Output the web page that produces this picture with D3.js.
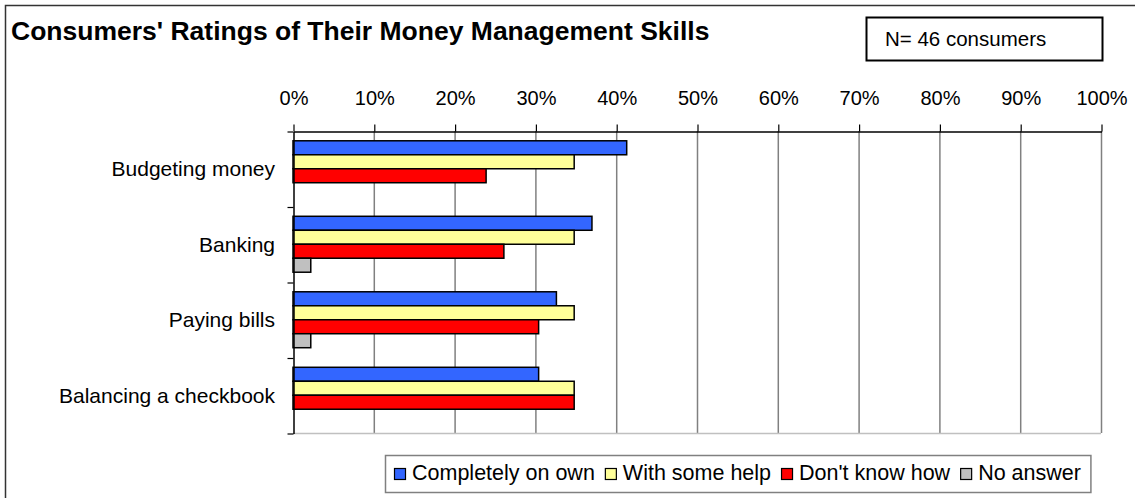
<!DOCTYPE html>
<html>
<head>
<meta charset="utf-8">
<script src="https://cdn.jsdelivr.net/npm/d3@7"></script>
<style>
    html, body { margin: 0; padding: 0; background: #fff; }
    svg text { font-family: "Liberation Sans", Arial, sans-serif; fill: #000; }
</style>
</head>
<body>
<div id="chart"></div>
<script>
// values in percent of the 46 consumers
var categories = ["Budgeting money", "Banking", "Paying bills", "Balancing a checkbook"];
var seriesNames = ["Completely on own", "With some help", "Don't know how", "No answer"];
var completelyOnOwn = [41.3, 37.0, 32.6, 30.4];
var withSomeHelp = [34.8, 34.8, 34.8, 34.8];
var dontKnowHow = [23.9, 26.1, 30.4, 34.8];
var noAnswer = [0, 2.2, 2.2, 0];
var tickValues = [0, 10, 20, 30, 40, 50, 60, 70, 80, 90, 100];
var colors = ["#3366FF", "#FFFF99", "#FF0000", "#C0C0C0"];

var seriesValues = [completelyOnOwn, withSomeHelp, dontKnowHow, noAnswer];

var width = 1135, height = 498;
var plot = { left: 293, right: 1101, top: 131, bottom: 433 };

var svg = d3.select("#chart")
    .append("svg")
    .attr("width", width)
    .attr("height", height);

// outer chart frame (only left/top edges show inside the window)
svg.append("rect")
    .attr("x", 5.5)
    .attr("y", 5.5)
    .attr("width", width + 20)
    .attr("height", height + 20)
    .attr("fill", "none")
    .attr("stroke", "#333")
    .attr("stroke-width", 1.5);

svg.append("text")
    .attr("x", 11)
    .attr("y", 40)
    .text("Consumers' Ratings of Their Money Management Skills")
    .style("font-weight", "bold")
    .style("font-size", "26.5px");

svg.append("rect")
    .attr("x", 866.5)
    .attr("y", 17.5)
    .attr("width", 236)
    .attr("height", 43)
    .attr("fill", "none")
    .attr("stroke", "#000")
    .attr("stroke-width", 2);

svg.append("text")
    .attr("x", 885)
    .attr("y", 46)
    .text("N= 46 consumers")
    .style("font-size", "20.5px");

var xScale = d3.scaleLinear()
    .domain([0, 100])
    .range([plot.left, plot.right]);

var yScale = d3.scaleBand()
    .domain(categories)
    .range([plot.top, plot.bottom])
    .padding(0);

var yEdges = d3.scaleLinear()
    .domain([0, categories.length])
    .range([plot.top, plot.bottom]);

var seriesScale = d3.scaleBand()
    .domain(d3.range(seriesNames.length))
    .range([0, yScale.bandwidth()])
    .paddingInner(0)
    .paddingOuter(0.7);

// gridlines
svg.append("g")
    .selectAll("line")
    .data(tickValues.slice(1))
    .join("line")
    .attr("x1", d => xScale(d) + 0.5)
    .attr("x2", d => xScale(d) + 0.5)
    .attr("y1", plot.top)
    .attr("y2", plot.bottom)
    .attr("stroke", "#808080")
    .attr("stroke-width", 1.5);

svg.append("line")
    .attr("x1", plot.left)
    .attr("x2", plot.right)
    .attr("y1", plot.bottom + 0.5)
    .attr("y2", plot.bottom + 0.5)
    .attr("stroke", "#c0c0c0")
    .attr("stroke-width", 1.5);

// bars
var rows = [];
categories.forEach((c, i) => {
    seriesValues.forEach((vals, s) => {
        rows.push({ category: c, series: s, value: vals[i] });
    });
});

svg.append("g")
    .selectAll("rect")
    .data(rows.filter(d => d.value > 0))
    .join("rect")
    .attr("x", xScale(0))
    .attr("y", d => yScale(d.category) + seriesScale(d.series))
    .attr("width", d => xScale(d.value) - xScale(0))
    .attr("height", seriesScale.bandwidth())
    .attr("fill", d => colors[d.series])
    .attr("stroke", "#000")
    .attr("stroke-width", 1.5);

// top value axis
var xAxis = svg.append("g")
    .attr("transform", `translate(0.5,${plot.top + 0.5})`)
    .call(d3.axisTop(xScale)
        .tickValues(tickValues)
        .tickSize(7)
        .tickPadding(20)
        .tickSizeOuter(0)
        .tickFormat(d => d + "%"));

xAxis.select(".domain").attr("stroke", "#000").attr("stroke-width", 1.5);
xAxis.selectAll(".tick line").attr("stroke", "#000").attr("stroke-width", 1.2);
xAxis.selectAll("text")
    .style("font-family", "Liberation Sans, Arial, sans-serif")
    .style("font-size", "20px")
    .attr("fill", "#000");

// left category axis, ticks at the band edges
var yAxis = svg.append("g")
    .attr("transform", `translate(${plot.left + 0.5},0.5)`)
    .call(d3.axisLeft(yEdges)
        .tickValues(d3.range(categories.length + 1))
        .tickSize(6)
        .tickSizeOuter(0)
        .tickFormat(""));

yAxis.select(".domain").attr("stroke", "#000").attr("stroke-width", 1.5);
yAxis.selectAll(".tick line").attr("stroke", "#000").attr("stroke-width", 1.2);

svg.append("g")
    .selectAll("text")
    .data(categories)
    .join("text")
    .attr("x", 275)
    .attr("y", d => yScale(d) + yScale.bandwidth() / 2)
    .attr("dy", "0.35em")
    .attr("text-anchor", "end")
    .text(d => d)
    .style("font-size", "21px");

// legend
var legend = svg.append("g");

var legendBox = legend.append("rect")
    .attr("x", 385.5)
    .attr("y", 455.5)
    .attr("height", 37)
    .attr("fill", "#fff")
    .attr("stroke", "#808080")
    .attr("stroke-width", 1.5);

var lx = 394;
seriesNames.forEach((name, i) => {
    legend.append("rect")
        .attr("x", lx + 0.5)
        .attr("y", 468.5)
        .attr("width", 11)
        .attr("height", 11)
        .attr("fill", colors[i])
        .attr("stroke", "#000")
        .attr("stroke-width", 1.2);

    var t = legend.append("text")
        .attr("x", lx + 18)
        .attr("y", 480)
        .text(name)
        .style("font-size", "21.5px");

    lx += 18 + t.node().getComputedTextLength() + 10;
});
legendBox.attr("width", lx - 385.5);
</script>
</body>
</html>
